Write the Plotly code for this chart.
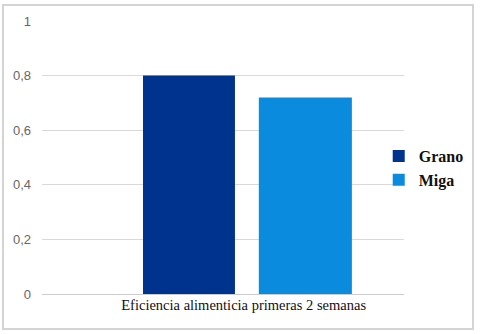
import plotly.graph_objects as go

categories = ["Eficiencia alimenticia primeras 2 semanas"]
grano = [0.80]
miga = [0.72]
series_names = ["Grano", "Miga"]

fig = go.Figure()
fig.add_trace(go.Bar(x=categories, y=grano, name=series_names[0],
                     marker=dict(color="#00338D", line=dict(width=0)),
                     width=0.254, offset=-0.278))
fig.add_trace(go.Bar(x=categories, y=miga, name=series_names[1],
                     marker=dict(color="#0B8BDE", line=dict(width=0)),
                     width=0.257, offset=0.042))

fig.update_layout(
    width=480, height=334,
    margin=dict(l=42, r=76, t=21, b=40, autoexpand=False),
    paper_bgcolor="white", plot_bgcolor="white",
    separators=",.",
    showlegend=True,
    legend=dict(xref="container", yref="container", x=0.789, xanchor="left",
                y=0.497, yanchor="middle",
                font=dict(family="Liberation Serif, serif", size=16, color="#111111",
                          weight=600),
                itemwidth=30, tracegroupgap=0, bgcolor="rgba(0,0,0,0)"),
    xaxis=dict(range=[-0.557, 0.443], showgrid=False, zeroline=False,
               showline=False, ticks="",
               tickfont=dict(family="Liberation Serif, serif", size=14.5, color="#111111")),
    yaxis=dict(range=[0, 1], dtick=0.2, showgrid=True, gridcolor="#d9d9d9",
               gridwidth=1, zeroline=True, zerolinecolor="#cccccc", zerolinewidth=1,
               showline=False, ticks="", ticklabelstandoff=10,
               tickfont=dict(family="Liberation Sans", size=13, color="#666666")),
    shapes=[dict(type="rect", xref="paper", yref="paper",
                 x0=-0.1077, x1=1.1906, y0=-0.128, y1=1.0586,
                 line=dict(color="#d4d4d4", width=2), layer="below")],
)

fig.write_html("out.html")
